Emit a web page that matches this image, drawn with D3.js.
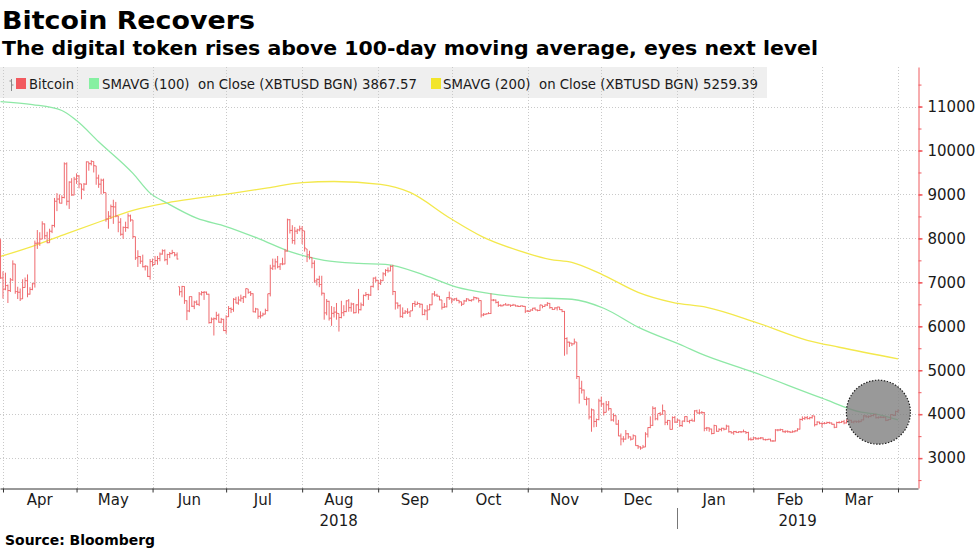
<!DOCTYPE html>
<html><head><meta charset="utf-8">
<script src="https://cdn.jsdelivr.net/npm/d3@7"></script>
<style>body{margin:0;background:#fff}svg{display:block}text{white-space:pre}</style>
</head><body><svg id="chart" width="977" height="549"></svg>
<script>
// ---------- DATA ----------
const titleText = "Bitcoin Recovers";
const subtitleText = "The digital token rises above 100-day moving average, eyes next level";
const sourceText = "Source: Bloomberg";
const legendLabels = ["Bitcoin", "SMAVG (100)  on Close (XBTUSD BGN) 3867.57", "SMAVG (200)  on Close (XBTUSD BGN) 5259.39"];
const firstBarDate = "2018-03-31"; // one bar per day
const close = [
 7100,6845,6926,
 6813,7056,7417,6790,6775,6624,6883,7038,6732,6839,6968,7890,7895,7986,8330,8059,7902,8163,8294,8845,8895,8802,8930,9697,8845,9281,8987,9348,9419,9240,
 9119,9235,9743,9700,9750,9654,9373,9234,9325,9043,8441,8504,8723,8716,8510,8368,8094,8250,8247,8513,8419,8041,7557,7587,7480,7355,7368,7135,7472,7406,7494,
 7541,7643,7720,7514,7633,7653,7679,7624,7531,6786,6906,6582,6349,6675,6456,6550,6500,6734,6769,6776,6729,6083,6162,6173,6249,6093,6157,5903,6218,6404,
 6385,6614,6529,6597,6639,6673,6857,6773,6741,6329,6394,6228,6238,6276,6359,6741,7321,7370,7466,7354,7419,7418,7711,8424,8182,7951,8165,8193,8218,8180,7780,
 7624,7567,7434,7032,7068,6951,6753,6305,6568,6184,6295,6322,6297,6199,6308,6334,6580,6423,6506,6308,6488,6377,6487,6703,6722,6711,6909,7096,7047,6978,7037,
 7193,7272,7260,7362,6792,6529,6467,6225,6300,6329,6321,6351,6518,6499,6519,6502,6269,6350,6374,6488,6735,6710,6686,6600,6433,6443,6653,6644,6601,6625,
 6590,6557,6502,6576,6622,6588,6602,6652,6642,6585,6256,6274,6285,6290,6596,6596,6544,6476,6465,6489,6482,6487,6475,6484,6461,6451,6465,6453,6345,6339,6371,
 6411,6371,6360,6485,6450,6485,6521,6425,6382,6418,6438,6378,6338,5720,5639,5618,5599,5644,4857,4588,4550,4335,4346,3936,4098,3834,3877,4302,4232,4041,
 4214,4126,3868,3966,3773,3505,3435,3432,3553,3485,3431,3510,3284,3256,3229,3253,3546,3696,3745,4134,3896,4014,3998,4078,3815,3857,3654,3923,3820,3865,3742,
 3843,3944,3837,3858,3846,4076,4026,4031,4035,3678,3687,3662,3559,3742,3610,3654,3678,3658,3728,3601,3576,3604,3585,3600,3599,3602,3583,3430,3420,3460,3440,
 3450,3460,3420,3420,3430,3390,3390,3640,3640,3650,3600,3610,3600,3590,3600,3620,3660,3880,3900,3920,3900,3920,3960,3760,3820,3790,3790,3790,
 3810,3800,3770,3700,3810,3810,3830,3800,3870,3860,3820,3840,3830,3830,3870,3960,3940,3950,3970,3990,3920,3930,3930,3930,3860,3880,3990,3970,4060,4080
];
const high = [
 7980,7250,7220,
 6950,7100,7500,7420,6900,6860,7070,7110,7180,6890,6990,7950,8190,8140,8390,8340,8150,8220,8310,8920,9030,9000,8980,9730,9730,9300,9370,9400,9480,9440,
 9240,9260,9750,9740,9780,9750,9650,9450,9360,9360,9040,8620,8770,8880,8830,8510,8460,8270,8380,8570,8540,8420,8040,7730,7600,7630,7390,7370,7530,7540,7600,
 7600,7680,7750,7750,7650,7690,7740,7680,7680,6900,6920,6910,6590,6680,6680,6580,6590,6780,6800,6800,6790,6740,6200,6200,6330,6290,6190,6170,6250,6460,
 6430,6640,6670,6680,6720,6690,6860,6850,6800,6750,6420,6400,6340,6310,6400,6740,7400,7540,7540,7600,7430,7560,7760,8450,8440,8300,8260,8220,8290,8280,8170,
 7760,7720,7570,7500,7090,7150,7150,6760,6620,6580,6460,6440,6530,6290,6580,6480,6590,6620,6540,6530,6500,6850,6540,6720,6780,6740,6920,7110,7130,7050,7070,
 7230,7300,7340,7390,7400,6800,6540,6500,6430,6370,6410,6350,6530,6580,6560,6520,6510,6390,6480,6510,6750,6800,6740,6690,6600,6530,6660,6790,6640,6640,
 6650,6600,6560,6600,6640,6620,6610,6680,6660,6640,6590,6300,6290,6320,6750,6620,6610,6570,6500,6500,6530,6510,6490,6510,6490,6480,6470,6470,6460,6370,6380,
 6420,6430,6380,6490,6480,6500,6550,6530,6430,6430,6440,6440,6390,6350,5750,5650,5620,5720,5640,4860,4760,4560,4400,4370,4130,4100,3900,4350,4400,4260,
 4300,4300,4130,4020,3970,3870,3560,3500,3640,3570,3490,3540,3510,3300,3270,3300,3590,3700,3950,4180,4160,4000,4050,4220,4080,3870,3860,3950,3960,3900,3870,
 3850,3950,3950,3870,3900,4090,4100,4110,4070,4050,3710,3700,3670,3760,3740,3680,3690,3690,3760,3740,3610,3620,3620,3610,3610,3650,3610,3600,3470,3480,3480,
 3470,3480,3470,3440,3440,3440,3410,3660,3660,3670,3660,3630,3630,3610,3630,3640,3680,3900,3950,3950,3960,3940,3980,3960,3840,3830,3810,3820,
 3830,3830,3810,3780,3830,3840,3850,3870,3880,3880,3870,3850,3850,3870,3880,3980,3980,3970,3990,4010,4010,3950,3960,3950,3940,3890,4000,4000,4080,4110
];
const low = [
 7080,6630,6820,
 6530,6780,7030,6740,6620,6575,6620,6880,6660,6720,6820,6880,7760,7830,7980,7980,7890,7900,8120,8250,8620,8800,8790,8910,8750,8670,8970,8980,9240,9140,
 8890,9080,9220,9540,9660,9500,9220,9150,9000,9020,8380,8220,8440,8330,8480,8140,8060,7990,8150,8220,8380,8000,7510,7350,7420,7340,7270,7120,7060,7360,7400,
 7400,7480,7630,7480,7400,7550,7640,7590,7520,6700,6660,6510,6140,6320,6440,6390,6480,6460,6700,6600,6720,6060,6070,5790,6140,6080,6070,5890,5830,6210,
 6300,6330,6520,6490,6560,6530,6640,6740,6690,6320,6310,6170,6180,6230,6270,6340,6680,7280,7290,7320,7280,7390,7410,7700,8110,7880,7860,8100,8160,7870,7700,
 7460,7520,7320,6990,6930,6890,6700,6150,6250,6130,6010,6200,6150,5880,6180,6230,6320,6330,6330,6290,6300,6290,6360,6460,6680,6600,6690,6880,7000,6820,6940,
 7030,7140,7220,7250,6710,6380,6400,6200,6190,6280,6280,6210,6350,6440,6490,6420,6250,6250,6140,6370,6480,6680,6670,6590,6380,6420,6430,6600,6520,6580,
 6570,6520,6460,6500,6560,6570,6560,6590,6610,6540,6200,6230,6260,6280,6280,6570,6520,6440,6450,6460,6480,6470,6440,6470,6450,6440,6440,6440,6300,6330,6330,
 6350,6370,6340,6350,6410,6440,6460,6400,6370,6380,6360,6370,6320,5330,5360,5530,5550,5590,4800,4240,4470,4330,4200,3880,3600,3700,3710,3860,4170,3970,
 4040,4080,3840,3830,3760,3500,3290,3360,3420,3440,3400,3430,3280,3210,3190,3230,3250,3470,3680,3730,3860,3860,3960,3990,3750,3750,3650,3650,3800,3800,3710,
 3710,3820,3820,3790,3840,3830,4020,4000,4010,3610,3620,3600,3540,3550,3600,3610,3610,3630,3650,3580,3560,3530,3570,3570,3570,3590,3550,3400,3400,3410,3420,
 3420,3430,3410,3400,3410,3380,3370,3380,3610,3620,3590,3570,3580,3570,3580,3590,3610,3650,3850,3870,3880,3880,3900,3720,3750,3770,3700,3770,
 3780,3780,3760,3680,3690,3790,3800,3770,3790,3830,3800,3790,3800,3800,3820,3860,3920,3910,3930,3950,3900,3900,3910,3910,3840,3850,3870,3960,3960,4030
];
const sma100Dates = ["2018-03-31","2018-04-13","2018-04-25","2018-05-01","2018-05-10","2018-05-24","2018-05-31","2018-06-07","2018-06-19","2018-07-01","2018-07-14","2018-07-28","2018-08-10","2018-08-24","2018-09-04","2018-09-20","2018-10-03","2018-10-16","2018-10-30","2018-11-19","2018-12-02","2018-12-16","2019-01-04","2019-01-10","2019-02-01","2019-03-01","2019-03-17","2019-03-24","2019-04-01"];
const sma100 = [11114,11045,10910,10680,10200,9480,9030,8800,8460,8270,8000,7680,7500,7430,7410,7160,6890,6750,6660,6615,6410,5980,5540,5390,4955,4365,4045,3990,3868];
const sma200Dates = ["2018-03-31","2018-04-13","2018-04-27","2018-05-11","2018-05-24","2018-06-07","2018-06-20","2018-07-04","2018-07-18","2018-08-01","2018-08-14","2018-09-02","2018-09-14","2018-09-30","2018-10-14","2018-10-28","2018-11-10","2018-11-19","2018-12-02","2018-12-16","2018-12-30","2019-01-13","2019-02-02","2019-02-23","2019-03-08","2019-04-01"];
const sma200 = [7590,7820,8110,8390,8640,8810,8920,9030,9150,9270,9295,9227,9045,8470,8023,7727,7523,7455,7160,6773,6545,6430,6091,5682,5523,5259];
const yTickValues = [3000,4000,5000,6000,7000,8000,9000,10000,11000];
const monthLabels = ["Apr","May","Jun","Jul","Aug","Sep","Oct","Nov","Dec","Jan","Feb","Mar"];
const yearLabels = ["2018","2019"];
const highlightDate = "2019-03-24", highlightValue = 4045;

// ---------- LAYOUT ----------
const W = 977, H = 549;
const plotLeft = 0, plotRight = 918, plotTop = 67, plotBottom = 488;
const colors = {bar:"#ef6a6e", sma100:"#8ee8a6", sma200:"#f3e84c", axisRed:"#ef5a5f", grid:"#c9c9c9", text:"#1a1a1a"};
const FONT = "'DejaVu Sans', Verdana, sans-serif";

const svg = d3.select("#chart");
svg.append("rect").attr("width", W).attr("height", H).attr("fill", "#fff");

const x = d3.scaleUtc()
  .domain([new Date("2018-03-30T18:40:00Z"), new Date("2019-04-09T03:45:00Z")])
  .range([plotLeft, plotRight]);
const y = d3.scaleLinear().domain([2320, 11900]).range([plotBottom, plotTop]);

const monthStarts = d3.utcMonth.range(new Date(Date.UTC(2018,3,1)), new Date(Date.UTC(2019,3,2)));
const yearBreak = new Date(Date.UTC(2019,0,1));

// legend background
svg.append("rect").attr("x", 0).attr("y", 67).attr("width", 767).attr("height", 31).attr("fill", "#efefef");

// grid
const grid = svg.append("g").attr("stroke", colors.grid).attr("stroke-dasharray", "1,2").attr("stroke-width", 1);
grid.selectAll("line.h").data(yTickValues).join("line")
  .attr("x1", plotLeft).attr("x2", plotRight)
  .attr("y1", d => Math.round(y(d)) + 0.5).attr("y2", d => Math.round(y(d)) + 0.5);
grid.selectAll("line.v").data(monthStarts).join("line")
  .attr("x1", d => Math.round(x(d)) + 0.5).attr("x2", d => Math.round(x(d)) + 0.5)
  .attr("y1", plotTop).attr("y2", plotBottom);

// moving averages
const line = d3.line().x(d => x(d[0])).y(d => y(d[1])).curve(d3.curveMonotoneX);
const parse = s => new Date(s + "T00:00:00Z");
svg.append("path").datum(sma200Dates.map((d,i) => [parse(d), sma200[i]]))
  .attr("d", line).attr("fill", "none").attr("stroke", colors.sma200).attr("stroke-width", 1.3);
svg.append("path").datum(sma100Dates.map((d,i) => [parse(d), sma100[i]]))
  .attr("d", line).attr("fill", "none").attr("stroke", colors.sma100).attr("stroke-width", 1.3);

// OHLC bars
const t0 = parse(firstBarDate).getTime();
const DAY = 864e5;
const bars = close.map((c, i) => {
  const h = high[i], l = low[i];
  const o = i === 0 ? h : close[i - 1];
  return {date: new Date(t0 + i * DAY), o: Math.max(l, Math.min(h, o)), h, l, c};
});
const tick = 1.3;
svg.append("g").selectAll("path").data(bars).join("path")
  .attr("d", d => {
    const X = x(d.date);
    return `M${X},${y(d.h)}V${y(d.l)}M${X - tick},${y(d.o)}H${X}M${X},${y(d.c)}H${X + tick}`;
  })
  .attr("fill", "none").attr("stroke", colors.bar).attr("stroke-width", 1);

// highlight circle
svg.append("circle")
  .attr("cx", x(parse(highlightDate))).attr("cy", y(highlightValue)).attr("r", 32)
  .attr("fill", "#7f7f7f").attr("fill-opacity", 0.8)
  .attr("stroke", "#222").attr("stroke-width", 1.2).attr("stroke-dasharray", "1.5,1.5");

// Y axis (right, red)
const yMinor = d3.range(2500, 12000, 500);
const yAxisMinor = d3.axisRight(y).tickValues(yMinor).tickSize(3).tickFormat("").tickSizeOuter(0);
const gyMinor = svg.append("g").attr("transform", `translate(${plotRight + 0.5},0)`).call(yAxisMinor);
gyMinor.select(".domain").attr("stroke", colors.axisRed);
gyMinor.selectAll(".tick line").attr("stroke", colors.axisRed);
const yAxis = d3.axisRight(y).tickValues(yTickValues).tickSize(4).tickPadding(5).tickSizeOuter(0).tickFormat(d3.format("d"));
const gy = svg.append("g").attr("transform", `translate(${plotRight + 0.5},0)`).call(yAxis);
gy.select(".domain").remove();
gy.selectAll(".tick line").attr("stroke", colors.axisRed).attr("stroke-width", 1.5);
gy.selectAll(".tick text").attr("fill", colors.text).attr("font-family", FONT).attr("font-size", 15);

// X axis
const xAxis = d3.axisBottom(x).tickValues(monthStarts).tickSize(4).tickFormat("").tickSizeOuter(0);
const gx = svg.append("g").attr("transform", `translate(0,${plotBottom + 0.5})`).call(xAxis);
gx.select(".domain").attr("stroke", "#333");
gx.selectAll(".tick line").attr("stroke", "#333");
const mids = monthStarts.slice(0, 12).map(d => new Date(d.getTime() + 15 * DAY));
svg.append("g").selectAll("text").data(mids).join("text")
  .attr("x", d => x(d)).attr("y", 505).attr("text-anchor", "middle")
  .attr("font-family", FONT).attr("font-size", 15).attr("fill", colors.text)
  .text((d, i) => monthLabels[i]);
// year labels
const yearCenters = [(plotLeft + x(yearBreak)) / 2, (x(yearBreak) + plotRight) / 2];
svg.append("g").selectAll("text").data(yearLabels).join("text")
  .attr("x", (d, i) => yearCenters[i]).attr("y", 526).attr("text-anchor", "middle")
  .attr("font-family", FONT).attr("font-size", 15).attr("fill", colors.text).text(d => d);
svg.append("line").attr("x1", Math.round(x(yearBreak)) + 0.5).attr("x2", Math.round(x(yearBreak)) + 0.5)
  .attr("y1", 508).attr("y2", 529).attr("stroke", "#777").attr("stroke-width", 1);

// Legend
const lg = svg.append("g");
lg.append("path").attr("d", "M11.5,79V91M9.5,81H11.5M11.5,85H13.5").attr("stroke", "#8a8a8a").attr("fill", "none");
const legendItems = [
  {sx: 16, tx: 29, w: 45, color: "#f25a5f"},
  {sx: 89, tx: 102, w: 315, color: "#86f0a2"},
  {sx: 431, tx: 443, w: 315, color: "#f2e52a"}
];
legendItems.forEach((it, i) => {
  lg.append("rect").attr("x", it.sx).attr("y", 78).attr("width", 10).attr("height", 11).attr("fill", it.color);
  lg.append("text").attr("x", it.tx).attr("y", 88.5).attr("font-family", FONT).attr("font-size", 13.2)
    .attr("fill", colors.text).attr("textLength", it.w).attr("lengthAdjust", "spacingAndGlyphs").text(legendLabels[i]);
});

// Titles and source
svg.append("text").attr("x", 2).attr("y", 29).attr("font-family", FONT).attr("font-weight", "bold")
  .attr("font-size", 24.5).attr("fill", "#000").attr("textLength", 253).attr("lengthAdjust", "spacingAndGlyphs").text(titleText);
svg.append("text").attr("x", 2).attr("y", 55).attr("font-family", FONT).attr("font-weight", "bold")
  .attr("font-size", 19.5).attr("fill", "#000").attr("textLength", 816).attr("lengthAdjust", "spacingAndGlyphs").text(subtitleText);
svg.append("text").attr("x", 5).attr("y", 545).attr("font-family", FONT).attr("font-weight", "bold")
  .attr("font-size", 14).attr("fill", "#000").attr("textLength", 150).attr("lengthAdjust", "spacingAndGlyphs").text(sourceText);
</script></body></html>
